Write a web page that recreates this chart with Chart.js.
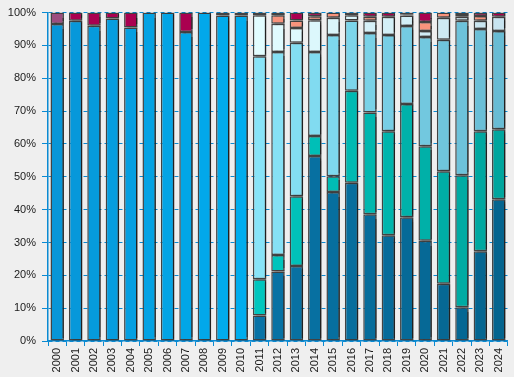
<!DOCTYPE html>
<html>
<head>
<meta charset="utf-8">
<script src="https://cdn.jsdelivr.net/npm/chart.js@4/dist/chart.umd.min.js"></script>
<style>
  body { margin: 0; background: #efefef; }
  canvas { display: block; }
</style>
</head>
<body>
<canvas id="chart" width="514" height="377"></canvas>
<script>
// years on the x axis
const years = ['2000','2001','2002','2003','2004','2005','2006','2007','2008','2009','2010','2011',
  '2012','2013','2014','2015','2016','2017','2018','2019','2020','2021','2022','2023','2024'];

// shares per year (%), bottom segment first
const seriesBright = [96.5, 97.5, 96, 98.2, 95.5, 100, 100, 94.1, 100, 99.1, 99.1, 0, 0, 0, 0, 0, 0, 0, 0, 0, 0, 0, 0, 0, 0];
const seriesDark   = [0, 0, 0, 0, 0, 0, 0, 0, 0, 0, 0, 7.8, 21.2, 22.8, 56.3, 45.4, 48.2, 38.6, 32.2, 37.7, 30.5, 17.4, 10.3, 27.3, 43.2];
const seriesTeal   = [0, 0, 0, 0, 0, 0, 0, 0, 0, 0, 0, 11, 5, 21.3, 6.1, 4.8, 28, 31, 31.7, 34.5, 28.8, 34.3, 40.2, 36.6, 21.3];
const seriesCyan   = [0, 0, 0, 0, 0, 0, 0, 0, 0, 0, 0, 67.9, 61.8, 46.7, 25.6, 43, 21.4, 24.2, 29.3, 23.7, 33.3, 40, 47, 31.1, 29.9];
const seriesPale   = [0, 0, 0, 0, 0, 0, 0, 0, 0, 0, 0, 12.5, 8.6, 4.5, 9.7, 5.2, 1.6, 3.7, 5.5, 3.2, 1.8, 6.7, 1.2, 2.5, 4.3];
const seriesSalmon = [0, 0, 0, 0, 0, 0, 0, 0, 0, 0, 0, 0.8, 2.6, 2.3, 1.2, 1.6, 0, 1.2, 0, 0.4, 2.7, 1.6, 0.6, 1.5, 0];
const seriesRed    = [3.5, 2.5, 4, 1.8, 4.5, 0, 0, 5.9, 0, 0.9, 0.9, 0, 0.8, 2.4, 1.1, 0, 0.8, 1.3, 1.3, 0.5, 2.9, 0, 0.7, 1, 1.3];

const yTicks = [0, 10, 20, 30, 40, 50, 60, 70, 80, 90, 100];

// colours drift a little from bar to bar like in the original
function hex(c) { return [parseInt(c.slice(1,3),16), parseInt(c.slice(3,5),16), parseInt(c.slice(5,7),16)]; }
function shade(from, to, i0, i1) {
  const a = hex(from), b = hex(to);
  return function(ctx) {
    let t = (ctx.dataIndex - i0) / (i1 - i0);
    t = Math.max(0, Math.min(1, t));
    const c = a.map((v, i) => Math.round(v + (b[i] - v) * t));
    return 'rgb(' + c.join(',') + ')';
  };
}

function makeSet(label, data, color) {
  return {
    label: label,
    data: data,
    backgroundColor: color,
    borderColor: '#434343',
    borderWidth: 1.5,
    borderSkipped: false,
    barPercentage: 0.73,
    categoryPercentage: 1
  };
}

// grey drop shadow on the right of every bar
const shadowPlugin = {
  id: 'barShadow',
  beforeDatasetDraw(chart) {
    const c = chart.ctx;
    c.save();
    c.shadowColor = 'rgba(0,0,0,0.5)';
    c.shadowOffsetX = 3;
    c.shadowOffsetY = 0;
    c.shadowBlur = 1.5;
  },
  afterDatasetDraw(chart) {
    chart.ctx.restore();
  }
};

const ctx = document.getElementById('chart').getContext('2d');
const chart = new Chart(ctx, {
  type: 'bar',
  data: {
    labels: years,
    datasets: [
      makeSet('A', seriesBright, shade('#0896d8', '#00adee', 0, 10)),
      makeSet('B', seriesDark, shade('#0873a6', '#05658f', 11, 24)),
      makeSet('C', seriesTeal, shade('#00c6be', '#00a69e', 11, 24)),
      makeSet('D', seriesCyan, shade('#88e4f8', '#68bcd4', 11, 24)),
      makeSet('E', seriesPale, shade('#e2fdff', '#c8e4f0', 11, 24)),
      makeSet('F', seriesSalmon, '#f8937c'),
      makeSet('G', seriesRed, function(c) { return c.dataIndex === 0 ? '#9c4d80' : '#aa0050'; })
    ]
  },
  options: {
    responsive: false,
    animation: false,
    layout: { padding: { top: 7, right: 3, left: 0, bottom: 0 } },
    plugins: { legend: { display: false }, tooltip: { enabled: false } },
    scales: {
      x: {
        stacked: true,
        grid: { drawOnChartArea: false, drawTicks: true, tickLength: 5, color: '#0a8ad2', offset: true },
        border: { display: true, color: '#0a8ad2', width: 1.5 },
        ticks: { color: '#1a1a1a', font: { family: 'Liberation Sans', size: 11 }, minRotation: 90, maxRotation: 90, padding: 2 },
        afterFit(scale) { scale.height = 36; }
      },
      y: {
        stacked: true,
        min: 0,
        max: 100,
        afterBuildTicks(scale) { scale.ticks = yTicks.map(v => ({ value: v })); },
        grid: { color: '#0a8ad2', lineWidth: 1, tickLength: 6, tickColor: '#0a8ad2' },
        border: { display: true, color: '#0a8ad2', width: 1.5, dash: [4, 3] },
        ticks: { color: '#1a1a1a', font: { family: 'Liberation Sans', size: 11 }, padding: 6, callback: v => v + '%' },
        afterFit(scale) { scale.width = 48; }
      }
    }
  },
  plugins: [shadowPlugin]
});
</script>
</body>
</html>
